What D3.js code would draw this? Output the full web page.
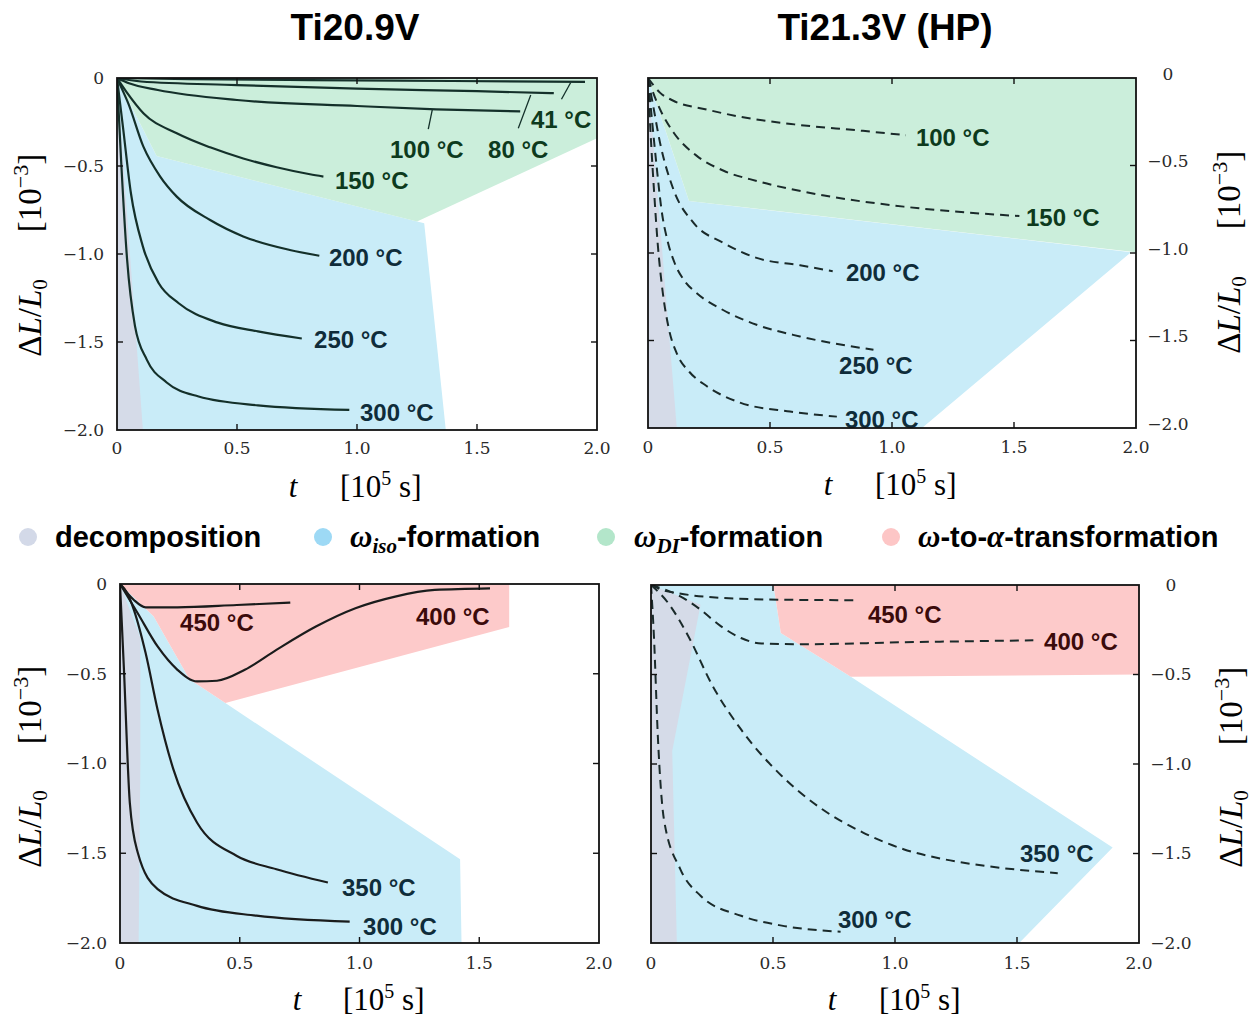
<!DOCTYPE html>
<html>
<head>
<meta charset="utf-8">
<script src="https://cdn.jsdelivr.net/npm/d3@7"></script>
<style>
  body { margin: 0; background: #fff; }
  svg { display: block; }
</style>
</head>
<body>
<svg width="1256" height="1018"></svg>
<script>
// ---- data: t in 10^5 s, dL/L0 in 10^-3 ----
var tTicks = [0, 0.5, 1.0, 1.5, 2.0]
var tTickLabels = ["0", "0.5", "1.0", "1.5", "2.0"]
var yTicks = [0, -0.5, -1.0, -1.5, -2.0]
var yTickLabels = ["0", "\u22120.5", "\u22121.0", "\u22121.5", "\u22122.0"]

var titles = ["Ti20.9V", "Ti21.3V (HP)"]
var legendNames = ["decomposition", "iso-formation", "DI-formation", "to-transformation"]

// Ti20.9V, low temperatures (solid)
var a41 = [[0,0],[0.3,-0.006],[0.8,-0.012],[1.4,-0.017],[1.95,-0.022]]
var a80 = [[0,0],[0.1,-0.02],[0.5,-0.04],[1.0,-0.06],[1.5,-0.075],[1.82,-0.086]]
var a100 = [[0,0],[0.05,-0.03],[0.17,-0.068],[0.5,-0.125],[1.0,-0.159],[1.33,-0.178],[1.68,-0.19]]
var a150 = [[0,0],[0.04,-0.08],[0.11,-0.2],[0.249,-0.314],[0.388,-0.394],[0.526,-0.457],[0.665,-0.507],[0.804,-0.547],[0.86,-0.56]]
var a200 = [[0,0],[0.02,-0.06],[0.047,-0.144],[0.11,-0.39],[0.18,-0.56],[0.249,-0.674],[0.388,-0.807],[0.526,-0.9],[0.72,-0.977],[0.843,-1.01]]
var a250 = [[0,0],[0.025,-0.28],[0.058,-0.655],[0.108,-0.958],[0.174,-1.166],[0.257,-1.28],[0.42,-1.39],[0.587,-1.44],[0.77,-1.48]]
var a300 = [[0,0],[0.017,-0.466],[0.042,-1.03],[0.075,-1.41],[0.124,-1.6],[0.207,-1.73],[0.34,-1.81],[0.587,-1.86],[0.968,-1.886]]

// Ti21.3V (HP), low temperatures (dashed)
var b100 = [[0,0],[0.05,-0.085],[0.104,-0.13],[0.24,-0.18],[0.38,-0.222],[0.6,-0.265],[0.881,-0.302],[1.057,-0.327]]
var b150 = [[0,0],[0.02,-0.08],[0.049,-0.178],[0.104,-0.31],[0.2,-0.445],[0.31,-0.53],[0.45,-0.59],[0.716,-0.67],[1.048,-0.735],[1.522,-0.789]]
var b200 = [[0,0],[0.02,-0.15],[0.049,-0.368],[0.104,-0.636],[0.186,-0.827],[0.309,-0.942],[0.445,-1.028],[0.623,-1.07],[0.757,-1.104]]
var b250 = [[0,0],[0.015,-0.22],[0.035,-0.5],[0.055,-0.75],[0.08,-0.93],[0.11,-1.06],[0.15,-1.16],[0.2,-1.23],[0.3,-1.32],[0.445,-1.41],[0.623,-1.477],[0.924,-1.553]]
var b300 = [[0,0],[0.01,-0.3],[0.025,-0.65],[0.04,-0.95],[0.06,-1.22],[0.085,-1.43],[0.12,-1.58],[0.17,-1.68],[0.24,-1.76],[0.377,-1.855],[0.582,-1.906],[0.774,-1.935]]

// Ti20.9V, high temperatures (solid)
var c300 = [[0,0],[0.0165,-0.478],[0.041,-1.219],[0.074,-1.496],[0.157,-1.7],[0.322,-1.793],[0.57,-1.848],[0.959,-1.881]]
var c350 = [[0,0],[0.03,-0.05],[0.058,-0.144],[0.107,-0.385],[0.157,-0.7],[0.223,-1.033],[0.322,-1.33],[0.488,-1.515],[0.653,-1.589],[0.868,-1.663]]
var c400 = [[0,0],[0.074,-0.163],[0.157,-0.348],[0.24,-0.478],[0.322,-0.543],[0.405,-0.539],[0.521,-0.478],[0.653,-0.367],[0.818,-0.237],[0.983,-0.135],[1.149,-0.07],[1.314,-0.033],[1.545,-0.024]]
var c450 = [[0,0],[0.03,-0.05],[0.058,-0.089],[0.107,-0.13],[0.24,-0.13],[0.488,-0.117],[0.711,-0.104]]

// Ti21.3V (HP), high temperatures (dashed)
var d300 = [[0,0],[0.012,-0.286],[0.028,-0.844],[0.053,-1.309],[0.12,-1.587],[0.203,-1.736],[0.369,-1.848],[0.536,-1.903],[0.777,-1.937]]
var d350 = [[0,0],[0.07,-0.1],[0.153,-0.286],[0.253,-0.565],[0.369,-0.807],[0.536,-1.067],[0.702,-1.253],[0.869,-1.383],[1.035,-1.476],[1.201,-1.532],[1.368,-1.569],[1.667,-1.61]]
var d400 = [[0,0],[0.12,-0.063],[0.203,-0.138],[0.286,-0.23],[0.369,-0.296],[0.453,-0.327],[0.619,-0.331],[1.035,-0.32],[1.567,-0.309]]
var d450 = [[0,0],[0.05,-0.03],[0.11,-0.046],[0.286,-0.072],[0.536,-0.082],[0.852,-0.085]]

// shaded regions (outline vertices)
var aDecomp = [[0,0],[0.108,-2],[0,-2]]
var aIso = [[0,0],[0.165,-0.443],[1.28,-0.825],[1.37,-2],[0,-2]]
var aDI = [[0,0],[2,0],[2,-0.343],[1.25,-0.816],[0.165,-0.443]]
var bDecomp = [[0,0],[0.118,-2],[0,-2]]
var bIso = [[0,0],[0.168,-0.703],[1.98,-0.995],[1.123,-2],[0,-2]]
var bDI = [[0,0],[2,0],[2,-0.995],[0.168,-0.703]]
var cDecomp = [[0,0],[0.085,-0.3],[0.085,-1.0],[0.078,-2],[0,-2]]
var cIso = [[0,0],[0.14,-0.18],[0.29,-0.53],[0.44,-0.663],[1.42,-1.533],[1.426,-2],[0,-2]]
var cAlpha = [[0,0],[1.625,0],[1.625,-0.24],[0.44,-0.663],[0.29,-0.53],[0.14,-0.18]]
var dDecomp = [[0,0],[0.203,-0.11],[0.087,-0.927],[0.106,-2],[0,-2]]
var dIso = [[0,0],[0.502,0],[0.532,-0.268],[0.819,-0.513],[1.892,-1.467],[1.509,-2],[0,-2]]
var dAlpha = [[0.502,0],[2,0],[2,-0.5],[0.819,-0.513],[0.532,-0.268]]

// ---- styles ----
var fills = {decomp: "#d5dbe8", iso: "#c9ecf8", di: "#cbeedb", alpha: "#fdcaca"}
var legendColors = ["#d3d9e8", "#9dd9f5", "#b3e6ca", "#fdc6c6"]
var txtGreen = "#0d3a1d", txtBlue = "#0f2c3a", txtRed = "#3b0b0b"

var panels = [
  {box: [117, 78, 597, 430], side: "left", dash: null, lineColor: "#14302a",
   regions: [[aIso, "iso"], [aDI, "di"], [aDecomp, "decomp"]],
   curves: [a41, a80, a100, a150, a200, a250, a300],
   labels: [["41 \u00B0C", 1.725, -0.284, txtGreen], ["100 \u00B0C", 1.1375, -0.4545, txtGreen],
            ["80 \u00B0C", 1.546, -0.4545, txtGreen], ["150 \u00B0C", 0.908, -0.631, txtGreen],
            ["200 \u00B0C", 0.883, -1.068, txtBlue], ["250 \u00B0C", 0.821, -1.534, txtBlue],
            ["300 \u00B0C", 1.0125, -1.949, txtBlue]],
   leaders: [[[1.89, -0.027], [1.852, -0.121]], [[1.724, -0.097], [1.672, -0.286]], [[1.314, -0.178], [1.297, -0.291]]],
   ylab: [29, 318, 193], xlab: [293, 340, 497], tickY: 448, tickDy: 0},
  {box: [648, 78, 1136, 428], side: "right", dash: "9,6", lineColor: "#1a2a2a",
   regions: [[bIso, "iso"], [bDI, "di"], [bDecomp, "decomp"]],
   curves: [b100, b150, b200, b250, b300],
   labels: [["100 \u00B0C", 1.098, -0.39, txtGreen], ["150 \u00B0C", 1.549, -0.848, txtGreen],
            ["200 \u00B0C", 0.811, -1.158, txtBlue], ["250 \u00B0C", 0.783, -1.691, txtBlue],
            ["300 \u00B0C", 0.807, -2.0, txtBlue]],
   leaders: [],
   ylab: [1228, 315, 190], xlab: [828, 875, 495], tickY: 447, tickDy: -4},
  {box: [120, 584, 599, 943], side: "left", dash: null, lineColor: "#1a1c1c",
   regions: [[cIso, "iso"], [cAlpha, "alpha"], [cDecomp, "decomp"]],
   curves: [c300, c350, c400, c450],
   labels: [["450 \u00B0C", 0.251, -0.262, txtRed], ["400 \u00B0C", 1.236, -0.228, txtRed],
            ["350 \u00B0C", 0.927, -1.738, txtBlue], ["300 \u00B0C", 1.015, -1.955, txtBlue]],
   leaders: [],
   ylab: [29, 829, 705], xlab: [297, 343, 1010], tickY: 963, tickDy: 0},
  {box: [651, 585, 1139, 943], side: "right", dash: "9,6", lineColor: "#1a2a2a",
   regions: [[dIso, "iso"], [dAlpha, "alpha"], [dDecomp, "decomp"]],
   curves: [d300, d350, d400, d450],
   labels: [["450 \u00B0C", 0.889, -0.212, txtRed], ["400 \u00B0C", 1.611, -0.363, txtRed],
            ["350 \u00B0C", 1.512, -1.547, txtBlue], ["300 \u00B0C", 0.766, -1.916, txtBlue]],
   leaders: [],
   ylab: [1230, 829, 706], xlab: [832, 879, 1010], tickY: 963, tickDy: 0}
]

var svg = d3.select("svg")
var serif = "'Liberation Serif', 'DejaVu Serif', serif"
var sans = "'Liberation Sans', Arial, sans-serif"

// titles
svg.selectAll("text.title")
  .data(titles)
  .enter()
  .append("text")
  .attr("class", "title")
  .attr("x", function(d, i){ return i == 0 ? 355 : 885 })
  .attr("y", 40)
  .attr("text-anchor", "middle")
  .style("font-family", sans)
  .style("font-weight", "bold")
  .style("font-size", "37px")
  .text(function(d){ return d })

panels.forEach(function(p, pi){
  var x = d3.scaleLinear().domain([0, 2]).range([p.box[0], p.box[2]])
  var y = d3.scaleLinear().domain([0, -2]).range([p.box[1], p.box[3]])
  var g = svg.append("g")

  g.append("clipPath").attr("id", "clip" + pi)
    .append("rect")
    .attr("x", p.box[0]).attr("y", p.box[1])
    .attr("width", p.box[2] - p.box[0]).attr("height", p.box[3] - p.box[1])

  var inner = g.append("g").attr("clip-path", "url(#clip" + pi + ")")

  var area = d3.line().x(function(d){ return x(d[0]) }).y(function(d){ return y(d[1]) })
  inner.selectAll("path.region")
    .data(p.regions)
    .enter()
    .append("path")
    .attr("class", "region")
    .attr("d", function(d){ return area(d[0]) + "Z" })
    .attr("fill", function(d){ return fills[d[1]] })

  var line = d3.line()
    .x(function(d){ return x(d[0]) })
    .y(function(d){ return y(d[1]) })
    .curve(d3.curveMonotoneX)

  inner.selectAll("path.curve")
    .data(p.curves)
    .enter()
    .append("path")
    .attr("class", "curve")
    .attr("d", line)
    .attr("fill", "none")
    .attr("stroke", p.lineColor)
    .attr("stroke-width", p.dash ? 2 : 2.2)
    .attr("stroke-dasharray", p.dash)

  g.selectAll("line.leader")
    .data(p.leaders)
    .enter()
    .append("line")
    .attr("x1", function(d){ return x(d[0][0]) })
    .attr("y1", function(d){ return y(d[0][1]) })
    .attr("x2", function(d){ return x(d[1][0]) })
    .attr("y2", function(d){ return y(d[1][1]) })
    .attr("stroke", "#14302a")
    .attr("stroke-width", 1.3)

  g.selectAll("text.lab")
    .data(p.labels)
    .enter()
    .append("text")
    .attr("x", function(d){ return x(d[1]) })
    .attr("y", function(d){ return y(d[2]) })
    .attr("fill", function(d){ return d[3] })
    .style("font-family", sans)
    .style("font-weight", "bold")
    .style("font-size", "24px")
    .text(function(d){ return d[0] })

  // frame and inward ticks
  g.append("rect")
    .attr("x", p.box[0]).attr("y", p.box[1])
    .attr("width", p.box[2] - p.box[0]).attr("height", p.box[3] - p.box[1])
    .attr("fill", "none").attr("stroke", "#111").attr("stroke-width", 1.8)

  var tl = 6
  var tickG = g.append("g").attr("stroke", "#111").attr("stroke-width", 1.4)
  tTicks.slice(1, -1).forEach(function(t){
    tickG.append("line").attr("x1", x(t)).attr("x2", x(t)).attr("y1", p.box[1]).attr("y2", p.box[1] + tl)
    tickG.append("line").attr("x1", x(t)).attr("x2", x(t)).attr("y1", p.box[3]).attr("y2", p.box[3] - tl)
  })
  yTicks.slice(1, -1).forEach(function(v){
    tickG.append("line").attr("y1", y(v)).attr("y2", y(v)).attr("x1", p.box[0]).attr("x2", p.box[0] + tl)
    tickG.append("line").attr("y1", y(v)).attr("y2", y(v)).attr("x1", p.box[2]).attr("x2", p.box[2] - tl)
  })

  // tick labels
  g.selectAll("text.tx")
    .data(tTicks)
    .enter()
    .append("text")
    .attr("x", function(d){ return x(d) })
    .attr("y", p.tickY)
    .attr("dy", "0.35em")
    .attr("text-anchor", "middle")
    .attr("fill", "#2a2a2a")
    .style("font-family", "'DejaVu Serif', serif")
    .style("font-size", "17px")
    .text(function(d, i){ return tTickLabels[i] })

  g.selectAll("text.ty")
    .data(yTicks)
    .enter()
    .append("text")
    .attr("x", p.side == "left" ? p.box[0] - 13 : p.box[2] + 32)
    .attr("y", function(d){ return y(d) + p.tickDy })
    .attr("dy", "0.35em")
    .attr("text-anchor", p.side == "left" ? "end" : "middle")
    .attr("fill", "#2a2a2a")
    .style("font-family", "'DejaVu Serif', serif")
    .style("font-size", "17px")
    .text(function(d, i){ return yTickLabels[i] })

  // y axis label, two parts
  var yl1 = g.append("text")
    .attr("transform", "translate(" + p.ylab[0] + "," + p.ylab[1] + ") rotate(-90)")
    .attr("text-anchor", "middle")
    .attr("dy", "0.35em")
    .style("font-family", serif)
    .style("font-size", "33px")
  yl1.append("tspan").text("\u0394")
  yl1.append("tspan").style("font-style", "italic").text("L")
  yl1.append("tspan").text("/")
  yl1.append("tspan").style("font-style", "italic").text("L")
  yl1.append("tspan").attr("dy", 6).style("font-size", "21px").text("0")

  var yl2 = g.append("text")
    .attr("transform", "translate(" + p.ylab[0] + "," + p.ylab[2] + ") rotate(-90)")
    .attr("text-anchor", "middle")
    .attr("dy", "0.35em")
    .style("font-family", serif)
    .style("font-size", "33px")
  yl2.append("tspan").text("[10")
  yl2.append("tspan").attr("dy", -13).style("font-size", "22px").text("\u22123")
  yl2.append("tspan").attr("dy", 13).text("]")

  // x axis label
  g.append("text")
    .attr("x", p.xlab[0]).attr("y", p.xlab[2])
    .attr("text-anchor", "middle")
    .style("font-family", serif).style("font-style", "italic").style("font-size", "31px")
    .text("t")
  var xl = g.append("text")
    .attr("x", p.xlab[1]).attr("y", p.xlab[2])
    .style("font-family", serif).style("font-size", "31px")
  xl.append("tspan").text("[10")
  xl.append("tspan").attr("dy", -12).style("font-size", "20px").text("5")
  xl.append("tspan").attr("dy", 12).text(" s]")
})

// legend
var legendX = [28, 323, 606, 891]
var lg = svg.append("g")
lg.selectAll("circle")
  .data(legendColors)
  .enter()
  .append("circle")
  .attr("cx", function(d, i){ return legendX[i] })
  .attr("cy", 537)
  .attr("r", 9)
  .attr("fill", function(d){ return d })

var boldStyle = function(t){ t.style("font-family", sans).style("font-weight", "bold").style("font-size", "29px") }
var greek = function(t){ t.style("font-family", serif).style("font-style", "italic").style("font-weight", "bold").style("font-size", "31px") }

var l0 = lg.append("text").attr("x", legendX[0] + 27).attr("y", 547)
l0.append("tspan").call(boldStyle).text(legendNames[0])

var l1 = lg.append("text").attr("x", legendX[1] + 27).attr("y", 547)
l1.append("tspan").call(greek).text("\u03C9")
l1.append("tspan").call(greek).style("font-size", "21px").attr("dy", 6).text(legendNames[1].split("-")[0])
l1.append("tspan").call(boldStyle).attr("dy", -6).text("-formation")

var l2 = lg.append("text").attr("x", legendX[2] + 28).attr("y", 547)
l2.append("tspan").call(greek).text("\u03C9")
l2.append("tspan").call(greek).style("font-size", "21px").attr("dy", 6).text(legendNames[2].split("-")[0])
l2.append("tspan").call(boldStyle).attr("dy", -6).text("-formation")

var l3 = lg.append("text").attr("x", legendX[3] + 27).attr("y", 547)
l3.append("tspan").call(greek).text("\u03C9")
l3.append("tspan").call(boldStyle).text("-to-")
l3.append("tspan").call(greek).text("\u03B1")
l3.append("tspan").call(boldStyle).text("-transformation")
</script>
</body>
</html>
